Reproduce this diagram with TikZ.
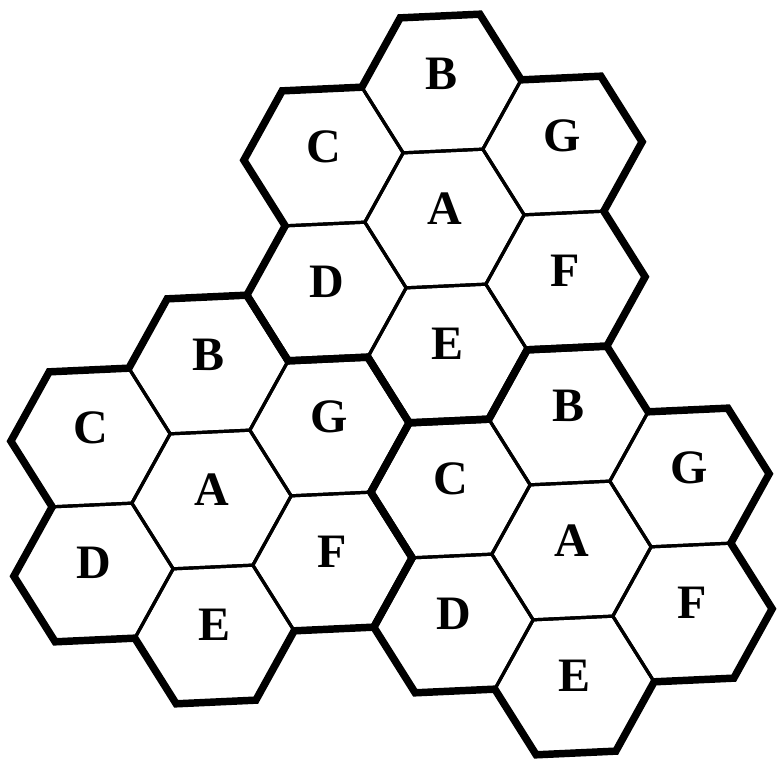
\documentclass[tikz,border=0pt]{standalone}
\usepackage{fontspec}
\setmainfont{Liberation Serif}

\tikzset{
  celledge/.style={draw=black, line width=2.4pt},
  clusteredge/.style={draw=black, line width=5.6pt, line join=miter},
  cell label/.style={font=\bfseries\fontsize{36}{36}\selectfont, yshift=7.5pt},
}

\begin{document}
\begin{tikzpicture}[x={(30.25pt,-15.5pt)}, y={(0.75pt,-33.75pt)}]

    % --- Поле рисунка ---
    \useasboundingbox (-333.4pt,-410.6pt) rectangle (249.4pt,163.9pt);

    \foreach \cx/\cy/\k in {0/0/1, -6/9/2, 3/6/3} {

        % --- Соты кластера (тонкие границы) ---
        \foreach \dx/\dy/\lab in {0/0/A, 0/-3/B, -3/0/C, -3/3/D, 0/3/E, 3/0/F, 3/-3/G} {
            \draw[celledge, shift={({\cx+\dx},{\cy+\dy})}]
                (2,-1) -- (1,1) -- (-1,2) -- (-2,1) -- (-1,-1) -- (1,-2) -- cycle;
            \node[cell label] (\lab\k) at ({\cx+\dx},{\cy+\dy}) {\lab};
        }

        % --- Граница кластера (жирная) ---
        \draw[clusteredge, shift={(\cx,\cy)}]
            (-2,-2) -- (-1,-4) -- (1,-5) -- (2,-4) -- (4,-5) -- (5,-4)
            -- (4,-2) -- (5,-1) -- (4,1) -- (2,2) -- (1,4) -- (-1,5)
            -- (-2,4) -- (-4,5) -- (-5,4) -- (-4,2) -- (-5,1) -- (-4,-1) -- cycle;
    }

\end{tikzpicture}
\end{document}
